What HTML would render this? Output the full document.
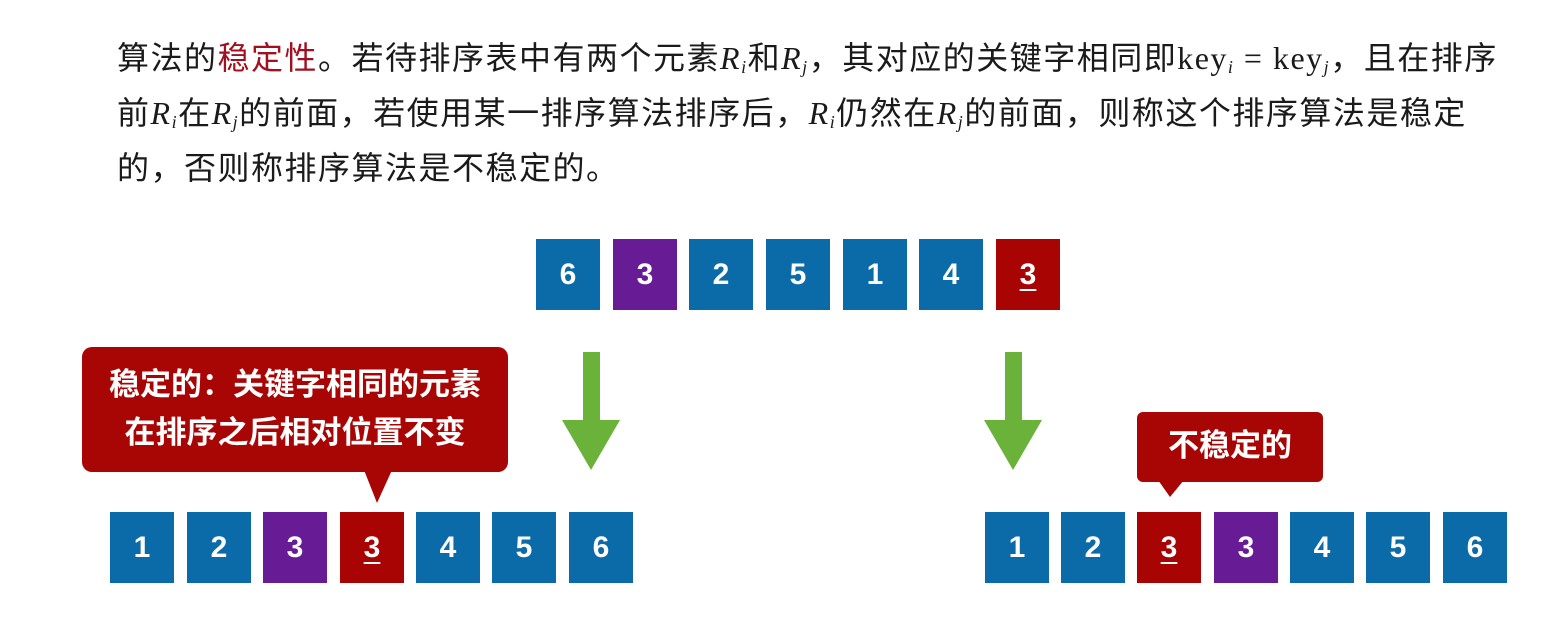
<!DOCTYPE html>
<html><head><meta charset="utf-8"><style>
body{margin:0;width:1545px;height:620px;background:#fff;position:relative;overflow:hidden;font-family:"Liberation Sans","Noto Sans CJK SC",sans-serif}
.t{position:absolute;left:117px;font-size:32px;letter-spacing:1.5px;color:#1a1a1a;white-space:nowrap;font-family:"Liberation Serif","Noto Sans CJK SC",sans-serif;line-height:40px}
.t i{font-style:italic}
.t sub{font-size:18px;vertical-align:-4px;font-style:italic}
.red{color:#a01020}
.b{position:absolute;width:64px;height:71px;color:#fff;font-size:30px;font-weight:bold;text-align:center;line-height:71px;font-family:"Liberation Sans",sans-serif}
.B{background:#0b6aa8}.P{background:#671c95}.R{background:#a80404}
.u{text-decoration:underline;text-underline-offset:5px;text-decoration-thickness:2px}
.c{position:absolute;background:#a80505;color:#fff;font-weight:bold;border-radius:10px;font-family:"Liberation Sans","Noto Sans CJK SC",sans-serif;text-align:center}
</style></head><body>
<div class="t" style="top:38px">算法的<span class="red">稳定性</span>。若待排序表中有两个元素<i>R<sub>i</sub></i>和<i>R<sub>j</sub></i>，其对应的关键字相同即key<sub>i</sub> = key<sub>j</sub>，且在排序</div>
<div class="t" style="top:93px">前<i>R<sub>i</sub></i>在<i>R<sub>j</sub></i>的前面，若使用某一排序算法排序后，<i>R<sub>i</sub></i>仍然在<i>R<sub>j</sub></i>的前面，则称这个排序算法是稳定</div>
<div class="t" style="top:148px">的，否则称排序算法是不稳定的。</div>

<div class="b B" style="left:536px;top:239px">6</div>
<div class="b P" style="left:613px;top:239px">3</div>
<div class="b B" style="left:689px;top:239px">2</div>
<div class="b B" style="left:766px;top:239px">5</div>
<div class="b B" style="left:843px;top:239px">1</div>
<div class="b B" style="left:919px;top:239px">4</div>
<div class="b R" style="left:996px;top:239px"><span class="u">3</span></div>

<svg style="position:absolute;left:0;top:0" width="1545" height="620">
<polygon points="583,352 600,352 600,420 620,420 591,470 562,420 583,420" fill="#6ab23a"/>
<polygon points="1005,352 1022,352 1022,420 1042,420 1013,470 984,420 1005,420" fill="#6ab23a"/>
<polygon points="364,470 392,470 377,503" fill="#a80505"/>
<polygon points="1158,480 1184,480 1170,497" fill="#a80505"/>
</svg>

<div class="c" style="left:82px;top:347px;width:426px;height:125px;font-size:31px;line-height:48px;padding-top:14px;box-sizing:border-box">稳定的：关键字相同的元素<br>在排序之后相对位置不变</div>
<div class="c" style="left:1137px;top:412px;width:186px;height:70px;font-size:31px;line-height:68px;border-radius:6px">不稳定的</div>

<div class="b B" style="left:110px;top:512px">1</div>
<div class="b B" style="left:187px;top:512px">2</div>
<div class="b P" style="left:263px;top:512px">3</div>
<div class="b R" style="left:340px;top:512px"><span class="u">3</span></div>
<div class="b B" style="left:416px;top:512px">4</div>
<div class="b B" style="left:492px;top:512px">5</div>
<div class="b B" style="left:569px;top:512px">6</div>

<div class="b B" style="left:985px;top:512px">1</div>
<div class="b B" style="left:1061px;top:512px">2</div>
<div class="b R" style="left:1137px;top:512px"><span class="u">3</span></div>
<div class="b P" style="left:1214px;top:512px">3</div>
<div class="b B" style="left:1290px;top:512px">4</div>
<div class="b B" style="left:1366px;top:512px">5</div>
<div class="b B" style="left:1443px;top:512px">6</div>
</body></html>
